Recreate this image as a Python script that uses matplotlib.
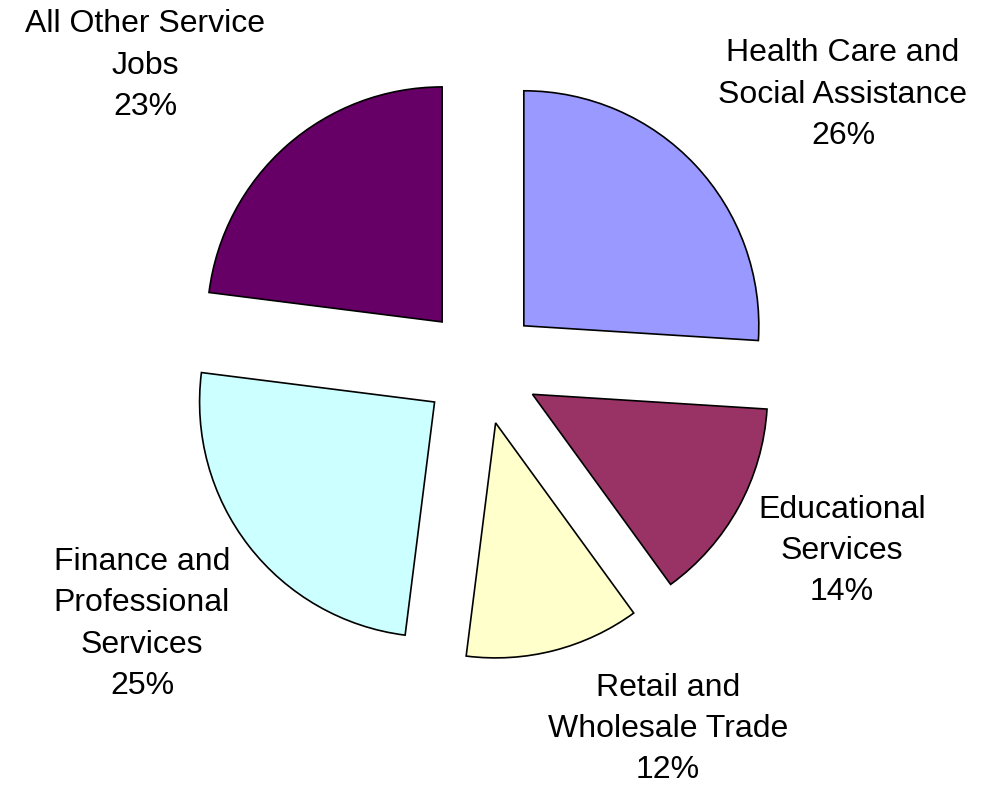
import numpy as np
import matplotlib
matplotlib.use("Agg")
import matplotlib.pyplot as plt

plt.rcParams['font.family'] = ['Liberation Sans', 'DejaVu Sans']

# slices, clockwise from 12 o'clock
categories = ["Health Care and\nSocial Assistance",
              "Educational\nServices",
              "Retail and\nWholesale Trade",
              "Finance and\nProfessional\nServices",
              "All Other Service\nJobs"]
shares = [26, 14, 12, 25, 23]
colors = ["#9999FF", "#993366", "#FFFFCC", "#CCFFFF", "#660066"]

# label centres in pixels (from the reference layout)
label_px = [(843, 95), (842, 551), (668, 729), (142, 624), (145, 66)]

W, H = 986, 787
R = 235.0          # pie radius in pixels
cx, cy = 481, 366  # pie centre in pixels (from top-left)

fig = plt.figure(figsize=(W / 100, H / 100), dpi=100)
ax = fig.add_axes([0, 0, 1, 1])

ax.pie(shares, colors=colors, startangle=90, counterclock=False,
       explode=[0.25] * len(shares), radius=1.0,
       wedgeprops=dict(edgecolor="black", linewidth=1.2))

ax.set_aspect('auto')
ax.set_xlim(-cx / R, (W - cx) / R)
ax.set_ylim(-(H - cy) / R, cy / R)
ax.axis('off')

for name, val, (px, py) in zip(categories, shares, label_px):
    ax.text((px - cx) / R, (cy - py) / R, f"{name}\n{val}%",
            ha='center', va='center', multialignment='center',
            fontsize=23, linespacing=1.5, color='black')

fig.savefig("out.png", dpi=100)
